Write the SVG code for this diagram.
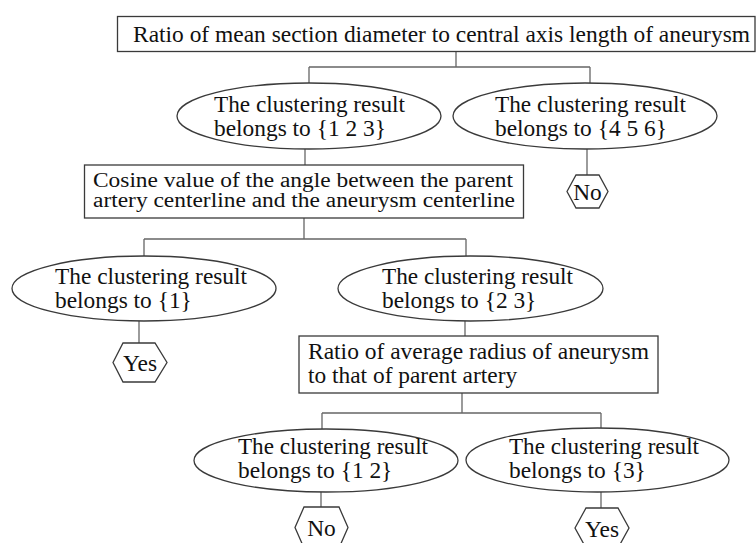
<svg xmlns="http://www.w3.org/2000/svg" width="756" height="543" viewBox="0 0 756 543">
<style>
.bg{fill:#ffffff}
.shape{fill:#ffffff;stroke:#3a3a3a;stroke-width:1.3}
.conn{fill:none;stroke:#666666;stroke-width:1.3}
text{font-family:"Liberation Serif","Times New Roman",serif;font-size:23.4px;fill:#111111}
.c{text-anchor:middle}
.s{font-size:20.5px}
</style>
<rect class="bg" x="0" y="0" width="756" height="543"/>
<g id="connectors">
<path class="conn" d="M456 52V67M309 67H590M309 67V83M590 67V83"/>
<path class="conn" d="M587 149V175"/>
<path class="conn" d="M305 149V165"/>
<path class="conn" d="M304 218V239M144 239H466M144 239V256M466 239V256"/>
<path class="conn" d="M139 321V343"/>
<path class="conn" d="M465 321V336"/>
<path class="conn" d="M462 393V413M322 413H601M322 413V429M601 413V428"/>
<path class="conn" d="M321 492V507"/>
<path class="conn" d="M601 492V508"/>
</g>
<g id="n_ratio_mean">
<rect class="shape" x="117.5" y="16.5" width="637.5" height="35"/>
<text x="133" y="42" textLength="617" lengthAdjust="spacingAndGlyphs">Ratio of mean section diameter to central axis length of aneurysm</text>
</g>
<g id="n_123">
<ellipse class="shape" cx="309" cy="116" rx="132" ry="33"/>
<text x="214" y="111.5" textLength="191" lengthAdjust="spacingAndGlyphs">The clustering result</text>
<text x="214" y="135.5">belongs to {1 2 3}</text>
</g>
<g id="n_456">
<ellipse class="shape" cx="585" cy="116" rx="132" ry="33"/>
<text x="495" y="111.5" textLength="191" lengthAdjust="spacingAndGlyphs">The clustering result</text>
<text x="495" y="135.5">belongs to {4 5 6}</text>
</g>
<g id="n_no1">
<polygon class="shape" points="567,191.5 576,175 599,175 608,191.5 599,208 576,208"/>
<text class="c" x="587.5" y="199.5">No</text>
</g>
<g id="n_cosine">
<rect class="shape" x="84.5" y="165" width="439" height="53"/>
<text class="s" x="93" y="186.5" textLength="420" lengthAdjust="spacingAndGlyphs">Cosine value of the angle between the parent</text>
<text class="s" x="93" y="207" textLength="422" lengthAdjust="spacingAndGlyphs">artery centerline and the aneurysm centerline</text>
</g>
<g id="n_1">
<ellipse class="shape" cx="144" cy="288.5" rx="132" ry="32.5"/>
<text x="55" y="284" textLength="192" lengthAdjust="spacingAndGlyphs">The clustering result</text>
<text x="55" y="308">belongs to {1}</text>
</g>
<g id="n_yes1">
<polygon class="shape" points="113,362.5 123,343 155,343 167,362.5 155,382 123,382"/>
<text class="c" x="140" y="370.5">Yes</text>
</g>
<g id="n_23">
<ellipse class="shape" cx="470.5" cy="288.5" rx="132.5" ry="32.5"/>
<text x="382" y="284" textLength="191" lengthAdjust="spacingAndGlyphs">The clustering result</text>
<text x="382" y="308">belongs to {2 3}</text>
</g>
<g id="n_ratio_radius">
<rect class="shape" x="299" y="336" width="359" height="57"/>
<text x="308" y="358.5" textLength="341" lengthAdjust="spacingAndGlyphs">Ratio of average radius of aneurysm</text>
<text x="308" y="383">to that of parent artery</text>
</g>
<g id="n_12">
<ellipse class="shape" cx="326" cy="460.5" rx="132" ry="31.5"/>
<text x="238" y="454" textLength="190" lengthAdjust="spacingAndGlyphs">The clustering result</text>
<text x="238" y="478">belongs to {1 2}</text>
</g>
<g id="n_no2">
<polygon class="shape" points="295,527.5 304,507 339,507 348,527.5 339,548 304,548"/>
<text class="c" x="321.5" y="536">No</text>
</g>
<g id="n_3">
<ellipse class="shape" cx="597.5" cy="460" rx="131.5" ry="32"/>
<text x="509" y="454" textLength="190" lengthAdjust="spacingAndGlyphs">The clustering result</text>
<text x="509" y="478">belongs to {3}</text>
</g>
<g id="n_yes2">
<polygon class="shape" points="575,528 586,508 618,508 629,528 618,548 586,548"/>
<text class="c" x="602" y="536.5">Yes</text>
</g>
</svg>
